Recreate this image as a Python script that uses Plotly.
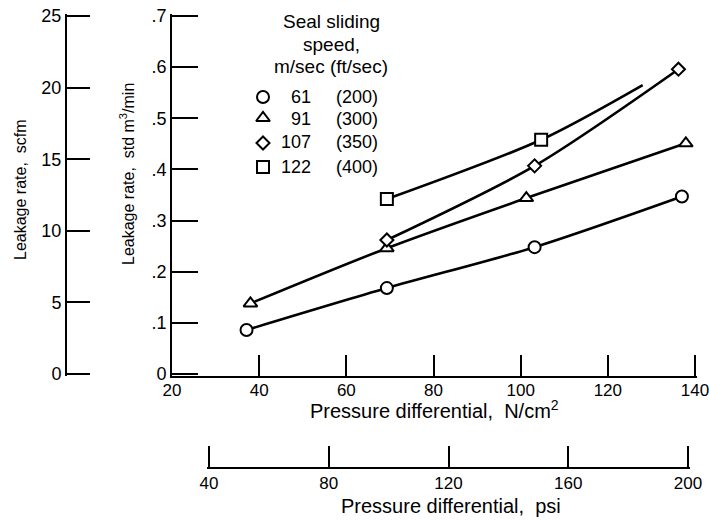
import plotly.graph_objects as go

W, H = 709, 520

# ---- data ----
speeds_ms = ["61", "91", "107", "122"]
speeds_fts = ["(200)", "(300)", "(350)", "(400)"]
symbols = ["circle", "triangle-up", "diamond", "square"]
sizes = [12, 12, 10, 12]

x_61 = [37.1, 69.3, 103.2, 137.0]
y_61 = [0.086, 0.168, 0.248, 0.347]
x_91 = [38.0, 69.3, 101.3, 137.9]
y_91 = [0.138, 0.246, 0.344, 0.451]
x_107 = [69.3, 103.2, 136.2]
y_107 = [0.262, 0.407, 0.596]
x_122 = [69.3, 104.7]
y_122 = [0.342, 0.458]
# faired curve for 122 m/sec continues past last point
x_122_line = [69.3, 104.7, 128.0]
y_122_line = [0.342, 0.458, 0.565]

series = [
    (x_61, y_61, x_61, y_61),
    (x_91, y_91, x_91, y_91),
    (x_107, y_107, x_107, y_107),
    (x_122_line, y_122_line, x_122, y_122),
]

x_ticks = [20, 40, 60, 80, 100, 120, 140]
y_ticks = [0, 0.1, 0.2, 0.3, 0.4, 0.5, 0.6, 0.7]
y_ticktext = ["0", ".1", ".2", ".3", ".4", ".5", ".6", ".7"]
scfm_ticks = [0, 5, 10, 15, 20, 25]
psi_ticks = [40, 80, 120, 160, 200]

REG = "Liberation Sans, Arial, sans-serif"

def px(x):
    return x / W

def py(y):
    return 1 - y / H

# small padding (px) so that inside end ticks are not clipped by plotly
PAD = 1.8

fig = go.Figure()

# lines first
for lx, ly, mx, my in series:
    fig.add_trace(go.Scatter(x=lx, y=ly, mode="lines",
                             line=dict(color="black", width=2.6, shape="spline", smoothing=0.8),
                             hoverinfo="skip", showlegend=False))
# markers on top
for (lx, ly, mx, my), sym, sz in zip(series, symbols, sizes):
    fig.add_trace(go.Scatter(x=mx, y=my, mode="markers",
                             marker=dict(symbol=sym, size=sz, color="white",
                                         line=dict(color="black", width=2)),
                             showlegend=False))

# invisible traces to carry the secondary axes
fig.add_trace(go.Scatter(x=[20, 140], y=[0, 25], mode="markers", marker=dict(opacity=0),
                         xaxis="x", yaxis="y2", hoverinfo="skip", showlegend=False))
fig.add_trace(go.Scatter(x=[40, 200], y=[0, 0], mode="markers", marker=dict(opacity=0),
                         xaxis="x2", yaxis="y", hoverinfo="skip", showlegend=False))

# legend glyphs (hidden pixel axes)
leg_sym_y = [97, 118, 143, 167]
for sym, sz, yy in zip(symbols, sizes, leg_sym_y):
    fig.add_trace(go.Scatter(x=[263], y=[yy], mode="markers", xaxis="x3", yaxis="y3",
                             marker=dict(symbol=sym, size=sz, color="white",
                                         line=dict(color="black", width=2)),
                             hoverinfo="skip", showlegend=False))

axis_common = dict(showline=True, linecolor="black", linewidth=2, ticks="inside",
                   tickcolor="black", tickwidth=2, showgrid=False, zeroline=False,
                   automargin=False, ticklabeloverflow="allow")

yfont = dict(family=REG, size=18, color="black")
xfont = dict(family=REG, size=17, color="black")

# main x: 20 at px 172, 140 at px 695 (left end kept exact: y-axis sits there)
X0, X1 = 172, 695
k_x = 120 / (X1 - X0)
x_range = [20, 140 + PAD * k_x]
x_dom = [px(X0), px(X1 + PAD)]
# main y: 0 at px 374, 0.7 at px 16
Y0, Y1 = 374, 16
y_dom = [py(Y0 + PAD), py(Y1 - PAD)]
y_range = [0 - PAD * 0.7 / (Y0 - Y1), 0.7 + PAD * 0.7 / (Y0 - Y1)]
y2_range = [0 - PAD * 25 / (Y0 - Y1), 25 + PAD * 25 / (Y0 - Y1)]
# psi axis: 40 at px 209, 200 at px 688
P0, P1 = 209, 688
k_psi = 160 / (P1 - P0)
psi_range = [40 - PAD * k_psi, 200 + PAD * k_psi]
psi_dom = [px(P0 - PAD), px(P1 + PAD)]

fig.update_layout(
    width=W, height=H,
    margin=dict(l=0, r=0, t=0, b=0, autoexpand=False),
    paper_bgcolor="white", plot_bgcolor="rgba(0,0,0,0)",
    showlegend=False,
    xaxis=dict(domain=x_dom, range=x_range, anchor="y", tickfont=xfont,
               tickvals=x_ticks, ticklen=21, ticklabelstandoff=-2, **axis_common),
    yaxis=dict(domain=y_dom, range=y_range, anchor="x", tickfont=yfont,
               tickvals=y_ticks, ticktext=y_ticktext, ticklen=26, **axis_common),
    yaxis2=dict(overlaying="y", anchor="free", position=px(66), side="left", tickfont=yfont,
                range=y2_range, tickvals=scfm_ticks, ticklen=23, **axis_common),
    xaxis2=dict(domain=psi_dom, anchor="free", position=py(468), tickfont=xfont,
                range=psi_range, tickvals=psi_ticks, ticklen=21, **axis_common),
    xaxis3=dict(domain=[0, 1], range=[0, W], visible=False, anchor="y3", automargin=False),
    yaxis3=dict(domain=[0, 1], range=[H, 0], visible=False, anchor="x3", automargin=False),
)

ann = []
def A(text, x, y, size=18, family=REG, xanchor="center", angle=0):
    ann.append(dict(text=text, x=px(x), y=py(y), xref="paper", yref="paper",
                    showarrow=False, xanchor=xanchor, yanchor="middle", textangle=angle,
                    font=dict(family=family, size=size, color="black")))

A("Pressure differential,  N/cm<sup>2</sup>", 434, 409, size=20)
A("Pressure differential,  psi", 451, 506, size=20)
A("Leakage rate,  scfm", 20, 190, size=16, angle=-90)
A("Leakage rate,  std m<sup>3</sup>/min", 127, 174, size=16, angle=-90)

A("Seal sliding", 331, 22, size=19)
A("speed,", 331, 44, size=19)
A("m/sec (ft/sec)", 331, 66, size=19)
leg_txt_y = [97, 119, 142, 167]
for a, b, yy in zip(speeds_ms, speeds_fts, leg_txt_y):
    A(a, 313, yy, size=18, xanchor="right")
    A(b, 334, yy, size=18, xanchor="left")

fig.update_layout(annotations=ann)
fig.write_html("out.html")
